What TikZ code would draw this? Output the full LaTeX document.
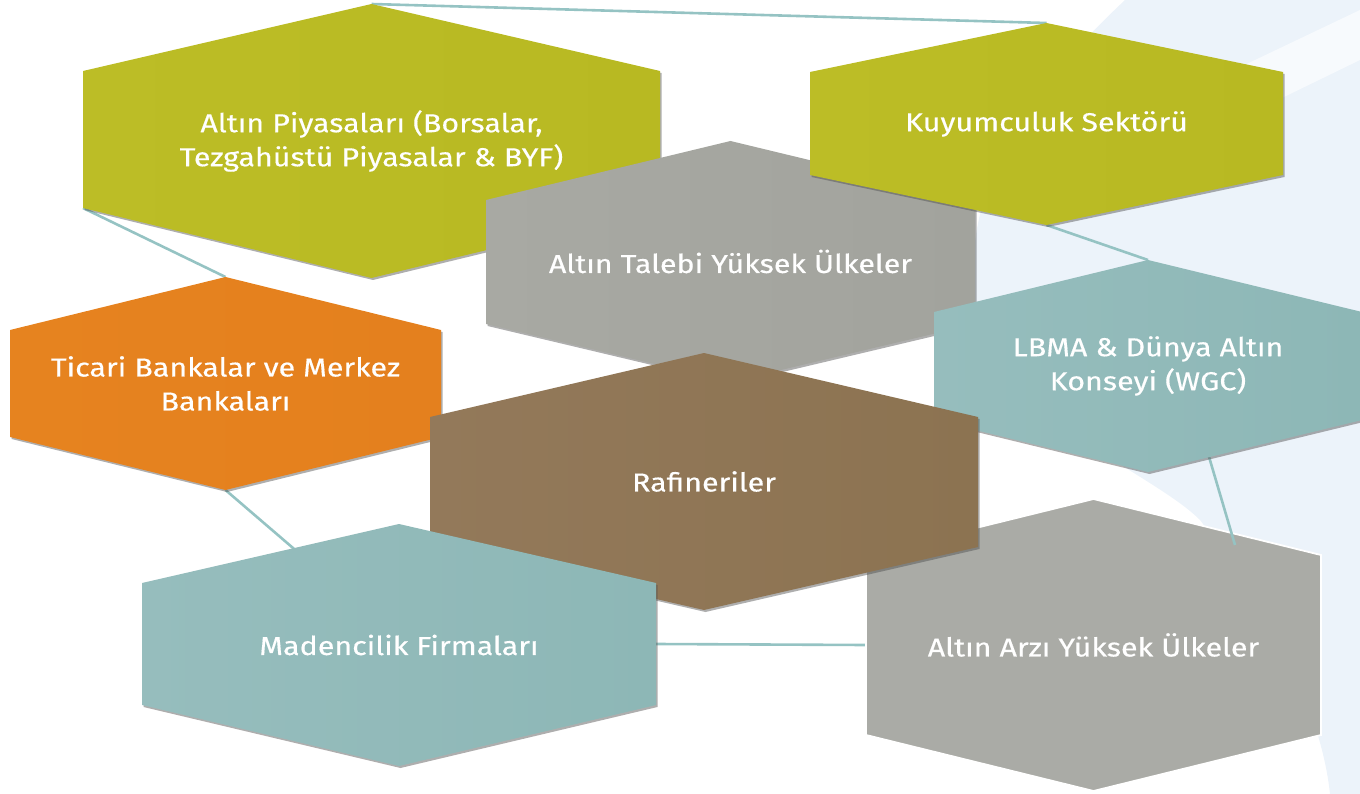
\documentclass[tikz,border=0pt]{standalone}
\usepackage{fontspec}
\setmainfont{Fira Sans}[FakeStretch=1.17,FakeBold=0.4]
\usetikzlibrary{calc,shadows}
\definecolor{olivehex}{HTML}{B8B922}
\definecolor{olivehexL}{HTML}{BCBD26}
\definecolor{grayhex}{HTML}{A2A39D}
\definecolor{grayhexL}{HTML}{A8A9A3}
\definecolor{orangehex}{HTML}{E4801E}
\definecolor{orangehexL}{HTML}{E6831F}
\definecolor{tealhex}{HTML}{8DB7B6}
\definecolor{tealhexL}{HTML}{96BDBD}
\definecolor{brownhex}{HTML}{8C7351}
\definecolor{brownhexL}{HTML}{93795A}
\definecolor{grayhexB}{HTML}{AAABA6}
\definecolor{connector}{HTML}{95C3C3}
\definecolor{bgblue}{HTML}{ECF3FA}
\tikzset{
  hexshadow/.style={drop shadow={shadow xshift=1.5pt,shadow yshift=-2pt,opacity=0.45,fill=black!70}},
  hextext/.style={text=white,align=center,font=\fontsize{26}{34}\selectfont,inner sep=0pt},
  conn/.style={draw=connector,line width=2.6pt},
}
% #1 name, #2 left x, #3 right x, #4 top, #5 upper shoulder, #6 lower shoulder, #7 bottom
\newcommand{\hexcoords}[7]{%
  \coordinate (#1-t) at ({(#2+#3)/2},-#4);
  \coordinate (#1-ur) at (#3,-#5);
  \coordinate (#1-lr) at (#3,-#6);
  \coordinate (#1-b) at ({(#2+#3)/2},-#7);
  \coordinate (#1-ll) at (#2,-#6);
  \coordinate (#1-ul) at (#2,-#5);
  \coordinate (#1-c) at ({(#2+#3)/2},{-(#4+#7)/2});
}
% #1 name, #2 fill style, #3 text
\newcommand{\hexdraw}[3]{%
  \path[#2] (#1-t) -- (#1-ur) -- (#1-lr) -- (#1-b) -- (#1-ll) -- (#1-ul) -- cycle;
  \node[hextext] (#1) at (#1-c) {#3};
}
\begin{document}
\begin{tikzpicture}[x=1pt,y=1pt]
\useasboundingbox (0,0) rectangle (1360,-794);
\clip (0,0) rectangle (1360,-794);
% background swoosh
\fill[bgblue] (1125,0) .. controls (1040,-80) and (960,-180) .. (975,-300)
  .. controls (1000,-420) and (1150,-470) .. (1200,-520)
  .. controls (1260,-600) and (1320,-700) .. (1330,-794) -- (1360,-794) -- (1360,0) -- cycle;
\fill[white,opacity=0.6] (1150,-110) -- (1360,-10) -- (1360,-60) -- (1175,-150) -- cycle;

\hexcoords{h1}{83}{660}{4}{71}{208}{278}
\hexcoords{h2}{810}{1283}{23}{72}{175}{225}
\hexcoords{h3}{486}{975}{141}{200}{324}{382}
\hexcoords{h4}{10}{441}{277}{330}{437}{490}
\hexcoords{h5}{934}{1362}{260}{312}{420}{472}
\hexcoords{h6}{430}{978}{353}{417}{547}{610}
\hexcoords{h7}{142}{656}{524}{583}{705}{766}
\hexcoords{h8}{866}{1321}{499}{555}{735}{791}
\coordinate (c4) at (300,-554);
\coordinate (c5a) at (1207,-450);
\coordinate (c5b) at (1235,-545);

% connectors behind the shapes
\draw[conn] (h1-t) -- (h2-t);
\draw[conn] (h1-ll) -- (h4-t);
\draw[conn] (h2-b) -- (h5-t);
\draw[conn] (h4-b) -- (c4);
\draw[conn] ($(h7-ur)!0.5!(h7-lr)$) -- ($(h8-ul)!0.5!(h8-ll)$);

% hexagons (back to front)
\hexdraw{h1}{hexshadow,left color=olivehexL,right color=olivehex}{Altın Piyasaları (Borsalar,\\Tezgahüstü Piyasalar \& BYF)}
\hexdraw{h3}{hexshadow,left color=grayhexL,right color=grayhex}{Altın Talebi Yüksek Ülkeler}
\hexdraw{h2}{hexshadow,left color=olivehexL,right color=olivehex}{Kuyumculuk Sektörü}
\hexdraw{h4}{hexshadow,left color=orangehexL,right color=orangehex}{Ticari Bankalar ve Merkez\\Bankaları}
\hexdraw{h8}{draw=white,line width=1.8pt,fill=grayhexB}{Altın Arzı Yüksek Ülkeler}
\draw[conn] (c5a) -- (c5b);
\hexdraw{h5}{hexshadow,left color=tealhexL,right color=tealhex}{LBMA \& Dünya Altın\\Konseyi (WGC)}
\hexdraw{h6}{hexshadow,left color=brownhexL,right color=brownhex}{Rafineriler}
\hexdraw{h7}{hexshadow,left color=tealhexL,right color=tealhex}{Madencilik Firmaları}
\end{tikzpicture}
\end{document}
